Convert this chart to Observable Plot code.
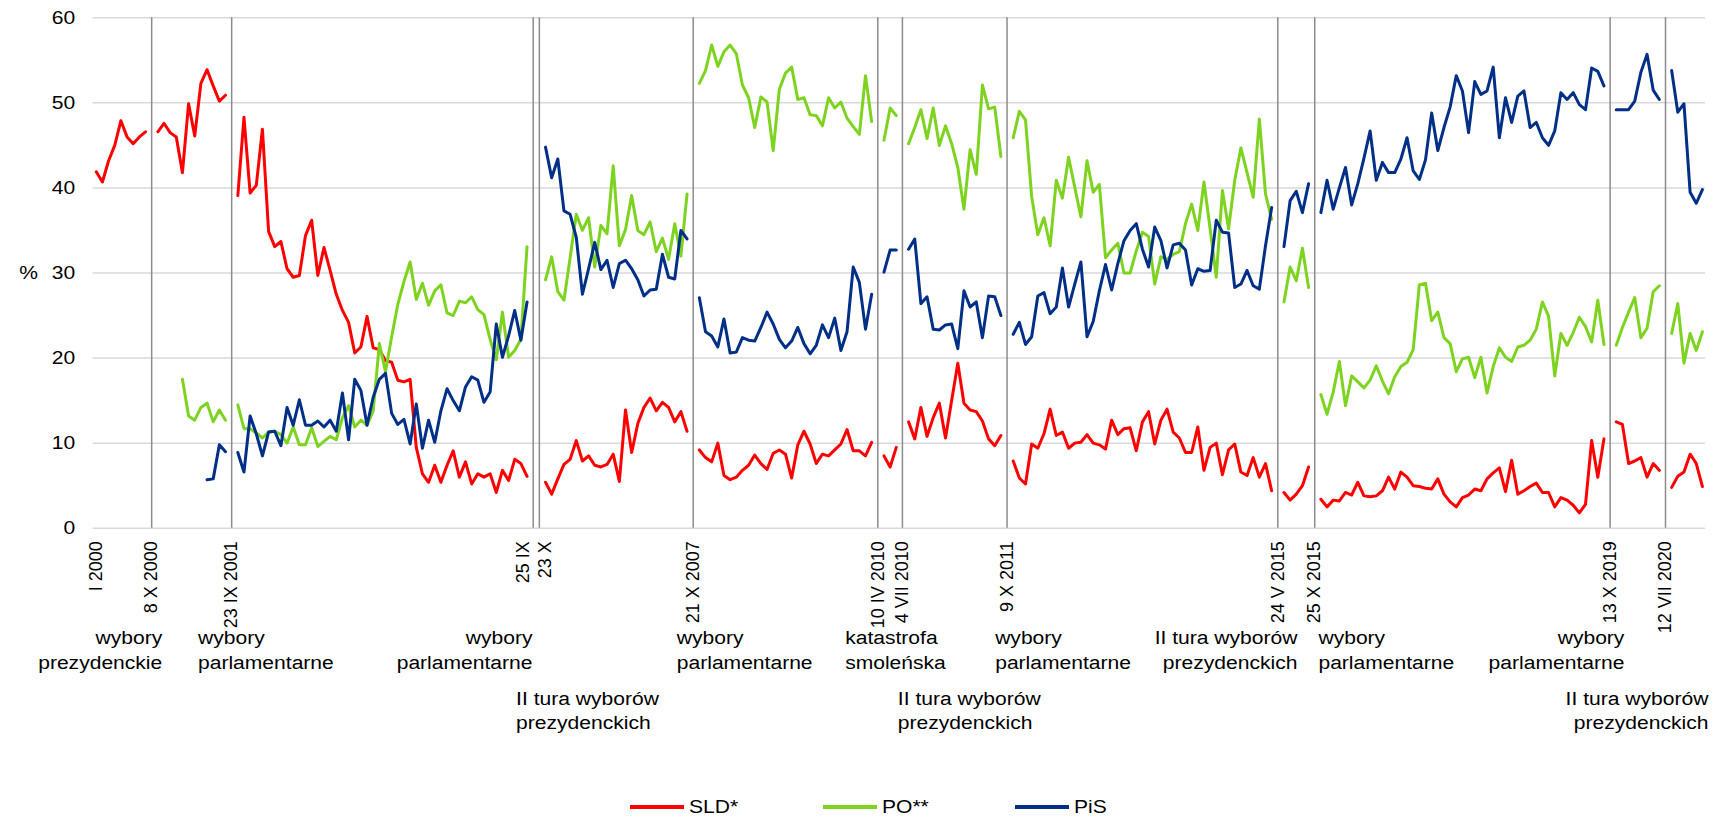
<!DOCTYPE html>
<html>
<head>
<meta charset="utf-8">
<script src="https://cdn.jsdelivr.net/npm/d3@7"></script>
<script src="https://cdn.jsdelivr.net/npm/@observablehq/plot@0.6"></script>
<style>
  html, body { margin: 0; padding: 0; background: #fff; }
  body { width: 1722px; height: 820px; overflow: hidden; font-family: "Liberation Sans", Arial, sans-serif; }
  #legend { display: flex; justify-content: center; align-items: center; gap: 92px; height: 26px; padding-top: 14px; padding-left: 10px; font-size: 18px; color: #000; }
  #legend .item { display: flex; align-items: center; }
  #legend .sw { display: inline-block; width: 54px; height: 4px; }
  #legend .lbl { display: inline-block; margin-left: 5px; transform: scaleX(1.17); transform-origin: left center; }
</style>
</head>
<body>
<div id="chart"></div>
<div id="legend"></div>
<script>
// ---- data: one value per monthly slot (null = no poll / event slot) ----
const seriesNames = ["SLD*", "PO**", "PiS"];
const seriesColors = ["#ff0000", "#7ed321", "#002f87"];
const yTicks = [0, 10, 20, 30, 40, 50, 60];

const sld = [
  41.9, 40.7, 43.2, 45.0, 47.9, 46.0, 45.2, 46.0, 46.6,
  null,
  46.6, 47.6, 46.5, 46.0, 41.8, 49.9, 46.1, 52.3, 53.9, 52.0, 50.2, 50.9,
  null,
  39.1, 48.3, 39.4, 40.3, 46.9, 34.9, 33.1, 33.7, 30.5, 29.5, 29.7, 34.4, 36.2, 29.7, 33.0, 30.3,
  27.5, 25.6, 24.2, 20.6, 21.3, 24.9, 21.2, 21.0, 19.7, 19.5, 17.4, 17.2, 17.5, 9.5, 6.4, 5.4,
  7.4, 5.4, 7.4, 9.1, 6.0, 7.8, 5.2, 6.4, 6.0, 6.4, 4.2, 6.8, 5.6, 8.1, 7.6, 6.1,
  null, null,
  5.4, 4.0, 5.8, 7.5, 8.1, 10.3, 7.9, 8.5, 7.4, 7.2, 7.5, 8.7, 5.5, 13.9, 8.9, 12.3, 14.2, 15.3,
  13.8, 14.8, 14.2, 12.5, 13.7, 11.4,
  null,
  9.2, 8.3, 7.8, 10.0, 6.2, 5.7, 6.0, 6.8, 7.4, 8.6, 7.6, 6.9, 8.8, 9.2, 8.7, 5.9, 9.8, 11.4, 9.9,
  7.6, 8.7, 8.5, 9.2, 9.9, 11.6, 9.1, 9.1, 8.5, 10.1,
  null,
  8.5, 7.2, 9.5,
  null,
  12.5, 10.5, 14.2, 10.8, 13.0, 14.7, 10.6, 15.0, 19.4, 14.7, 13.9, 13.7, 12.6, 10.5, 9.7, 10.9,
  null,
  7.9, 5.9, 5.2, 9.9, 9.4, 11.1, 14.0, 10.9, 11.3, 9.4, 10.0, 10.1, 11.0, 10.0, 9.8, 9.3, 12.7,
  11.0, 11.7, 11.8, 9.1, 12.5, 13.7, 9.9, 12.7, 14.0, 11.3, 10.6, 8.9, 8.9, 11.9, 6.8, 9.5, 10.0,
  6.3, 9.2, 9.9, 6.6, 6.2, 8.3, 6.0, 7.6, 4.4,
  null,
  4.2, 3.3, 4.0, 5.0, 7.2,
  null,
  3.4, 2.5, 3.3, 3.2, 4.2, 3.9, 5.4, 3.8, 3.7, 3.8, 4.4, 6.0, 4.6, 6.6, 6.0, 5.0, 4.9, 4.7, 4.6,
  5.8, 4.0, 3.1, 2.5, 3.6, 3.9, 4.6, 4.4, 5.8, 6.5, 7.1, 4.3, 8.0, 4.0, 4.4, 4.9, 5.3, 4.2, 4.2,
  2.5, 3.6, 3.3, 2.7, 1.8, 2.8, 10.3, 6.0, 10.5,
  null,
  12.5, 12.2, 7.6, 7.9, 8.3, 6.0, 7.6, 6.8,
  null,
  4.8, 6.1, 6.6, 8.7, 7.6, 4.9
];

const po = [
  null, null, null, null, null, null, null, null, null,
  null,
  null, null, null, null, 17.5, 13.2, 12.7, 14.2, 14.7, 12.5, 13.9, 12.7,
  null,
  14.5, 11.7, 11.7, 11.2, 10.6, 11.3, 11.4, 11.0, 10.0, 11.9, 9.8, 9.8, 11.8, 9.6, 10.2, 10.8,
  10.4, 13.0, 14.4, 11.9, 12.7, 12.1, 13.8, 21.7, 18.4, 22.5, 26.3, 29.0, 31.3, 26.9, 28.8, 26.2,
  27.9, 28.6, 25.3, 25.0, 26.7, 26.5, 27.2, 25.7, 25.1, 22.2, 19.8, 25.4, 20.1, 20.9, 22.2, 33.1,
  null, null,
  29.2, 31.9, 27.8, 26.8, 31.8, 36.9, 35.0, 36.5, 30.7, 35.6, 34.6, 42.6, 33.2, 35.1, 39.1, 35.0,
  34.5, 36.0, 32.5, 34.1, 31.6, 35.8, 32.0, 39.3,
  null,
  52.3, 53.8, 56.8, 54.3, 56.0, 56.8, 55.8, 52.1, 50.6, 47.1, 50.7, 50.1, 44.4, 51.6, 53.5, 54.2,
  50.4, 50.6, 48.6, 48.5, 47.3, 50.6, 49.4, 50.1, 48.2, 47.2, 46.3, 53.2, 47.8,
  null,
  45.6, 49.4, 48.5,
  null,
  45.2, 47.1, 49.2, 45.8, 49.4, 45.0, 47.3, 45.2, 42.4, 37.5, 44.5, 41.6, 52.1, 49.3, 49.5, 43.7,
  null,
  45.9, 49.0, 48.0, 39.0, 34.5, 36.5, 33.2, 40.9, 38.8, 43.6, 40.1, 36.6, 43.2, 39.5, 40.4, 31.8,
  32.7, 33.5, 30.0, 30.0, 32.6, 34.8, 34.3, 28.7, 31.9, 31.6, 32.2, 32.5, 35.8, 38.1, 35.0, 40.7,
  35.2, 29.5, 39.7, 35.2, 40.9, 44.7, 41.8, 38.9, 48.1, 39.3, 36.3,
  null,
  26.6, 30.7, 29.1, 32.9, 28.3,
  null,
  15.7, 13.4, 16.0, 19.6, 14.4, 17.9, 17.2, 16.5, 17.4, 19.1, 17.3, 15.8, 17.8, 19.0, 19.5, 21.0,
  28.6, 28.8, 24.4, 25.4, 22.4, 21.7, 18.4, 19.9, 20.1, 17.7, 20.1, 15.9, 19.0, 21.2, 20.1, 19.6,
  21.3, 21.5, 22.1, 23.4, 26.6, 24.9, 17.9, 22.9, 21.5, 23.0, 24.8, 23.7, 21.9, 26.8, 21.6,
  null,
  21.5, 23.6, 25.4, 27.1, 22.4, 23.5, 27.8, 28.5,
  null,
  22.9, 26.4, 19.4, 22.9, 20.9, 23.1
];

const pis = [
  null, null, null, null, null, null, null, null, null,
  null,
  null, null, null, null, null, null, null, null, 5.7, 5.8, 9.8, 9.0,
  null,
  8.9, 6.6, 13.2, 11.1, 8.5, 11.3, 11.4, 9.7, 14.2, 12.1, 15.1, 12.1, 12.1, 12.6, 11.9, 12.7,
  11.4, 15.9, 10.4, 17.5, 16.2, 12.1, 15.4, 17.5, 18.2, 13.5, 12.2, 12.8, 9.9, 14.6, 9.4, 12.7,
  10.1, 13.8, 16.4, 15.0, 13.8, 16.6, 17.8, 17.4, 14.8, 16.0, 24.0, 20.1, 22.6, 25.6, 22.1, 26.6,
  null, null,
  44.8, 41.2, 43.4, 37.3, 36.9, 34.2, 27.5, 30.5, 33.6, 30.4, 31.5, 28.3, 31.1, 31.5, 30.5, 29.2,
  27.3, 28.0, 28.1, 32.2, 29.5, 29.3, 35.0, 34.0,
  null,
  27.1, 23.1, 22.6, 21.3, 24.6, 20.6, 20.7, 22.4, 22.1, 22.0, 23.6, 25.4, 24.0, 22.2, 21.2, 22.0,
  23.6, 21.7, 20.5, 21.5, 23.9, 22.4, 24.7, 20.9, 23.1, 30.7, 28.9, 23.4, 27.5,
  null,
  30.1, 32.7, 32.7,
  null,
  32.8, 34.0, 26.4, 27.2, 23.4, 23.3, 23.9, 24.0, 21.1, 27.9, 26.0, 26.6, 22.4, 27.3, 27.2, 25.0,
  null,
  22.8, 24.2, 21.6, 22.5, 27.3, 27.7, 25.2, 26.0, 30.6, 26.0, 28.7, 31.3, 22.5, 24.3, 27.9, 31.0,
  28.0, 31.1, 33.8, 35.0, 35.8, 32.8, 30.7, 35.4, 33.8, 30.6, 33.3, 33.5, 32.7, 28.6, 30.5, 30.2,
  30.3, 36.2, 34.8, 34.7, 28.3, 28.7, 30.3, 28.5, 28.1, 33.2, 37.7,
  null,
  33.1, 38.5, 39.6, 37.1, 40.5,
  null,
  37.1, 40.9, 37.5, 40.0, 42.4, 38.0, 40.5, 43.5, 46.7, 40.9, 43.0, 41.8, 41.8, 43.4, 45.9, 42.0,
  41.0, 43.3, 48.8, 44.4, 47.1, 49.5, 53.2, 51.4, 46.5, 52.5, 51.0, 51.4, 54.2, 45.9, 50.6, 47.7,
  50.8, 51.4, 47.1, 47.7, 45.9, 45.0, 46.7, 51.2, 50.4, 51.2, 49.8, 49.2, 54.1, 53.7, 52.0,
  null,
  49.2, 49.2, 49.2, 50.2, 53.6, 55.7, 51.5, 50.4,
  null,
  53.8, 48.9, 49.9, 39.5, 38.2, 39.8
];

// event slots (empty slot at each event) and their labels
const eventSlots = [9, 22, 71, 72, 97, 127, 131, 148, 192, 198, 246, 255];
const eventDates = ["8 X 2000", "23 IX 2001", "25 IX", "23 X", "21 X 2007", "10 IV 2010",
  "4 VII 2010", "9 X 2011", "24 V 2015", "25 X 2015", "13 X 2019", "12 VII 2020"];
const startLabel = "I 2000";
const eventNotes = ["wybory\nprezydenckie", "wybory\nparlamentarne", "wybory\nparlamentarne",
  "II tura wyborów\nprezydenckich", "wybory\nparlamentarne", "katastrofa\nsmoleńska",
  "II tura wyborów\nprezydenckich", "wybory\nparlamentarne", "II tura wyborów\nprezydenckich",
  "wybory\nparlamentarne", "wybory\nparlamentarne", "II tura wyborów\nprezydenckich"];

// ---- build ----
const nSlots = sld.length;
const rows = [];
[sld, po, pis].forEach((arr, s) => arr.forEach((v, i) => rows.push({i, v, party: seriesNames[s]})));

const dateLabels = [{x: 0, t: startLabel}].concat(eventSlots.map((s, k) => {
  // spread two adjacent event labels apart
  let off = 0;
  if (eventSlots[k + 1] === s + 1) off = -1.6;
  if (eventSlots[k - 1] === s - 1) off = 1.0;
  return {x: s + off, t: eventDates[k]};
}));

// note placement (slot units), anchor and row (0 = upper, 1 = lower)
const notePlace = [[10.72, "end", 0], [16.53, "start", 0], [70.88, "end", 0], [68.22, "start", 1],
  [94.33, "start", 0], [121.69, "start", 0], [130.26, "start", 1], [146.07, "start", 0],
  [195.19, "end", 0], [198.6, "start", 0], [248.32, "end", 0], [261.97, "end", 1]];
const notes = eventNotes.map((t, k) => ({x: notePlace[k][0], a: notePlace[k][1], r: notePlace[k][2], t}));

const font = "'Liberation Sans', Arial, sans-serif";
const noteMark = (anchor, row, dy) => Plot.text(notes.filter(d => d.a === anchor && d.r === row), {
  x: "x", y: () => 0, text: "t", textAnchor: anchor, lineAnchor: "middle", lineHeight: 1.36,
  dy, fontSize: 18, fill: "#000"
});

const chart = Plot.plot({
  width: 1722,
  height: 780,
  marginLeft: 92.7,
  marginRight: 17,
  marginTop: 17.3,
  marginBottom: 252.3,
  x: {domain: [-0.5, nSlots - 0.5], axis: null},
  y: {domain: [0, 60], axis: null},
  color: {domain: seriesNames, range: seriesColors},
  style: {fontFamily: font, background: "#fff", color: "#000", overflow: "visible"},
  marks: [
    Plot.ruleY(yTicks, {stroke: "#d9d9d9", strokeWidth: 1.5}),
    Plot.ruleX(eventSlots, {y1: 0, y2: 60, stroke: "#8c8c8c", strokeWidth: 1.5}),
    Plot.axisY({ticks: yTicks, tickSize: 0, tickPadding: 18, fontSize: 18, label: null}),
    Plot.text([{y: 30, t: "%"}], {y: "y", text: "t", frameAnchor: "left", dx: -74, fontSize: 18, fill: "#000"}),
    Plot.line(rows, {x: "i", y: "v", z: "party", stroke: "party", strokeWidth: 3, strokeLinejoin: "round"}),
    Plot.text(dateLabels, {x: "x", y: () => 0, text: "t", rotate: -90, textAnchor: "end",
      lineAnchor: "middle", dy: 13, fontSize: 18, fill: "#000"}),
    noteMark("start", 0, 120.5),
    noteMark("end", 0, 120.5),
    noteMark("start", 1, 181),
    noteMark("end", 1, 181)
  ]
});
document.getElementById("chart").appendChild(chart);

// horizontal text in the reference is drawn ~17% wider than regular Arial
const STRETCH = 1.17;
chart.querySelectorAll("text").forEach(t => {
  const tr = t.getAttribute("transform") || "";
  if (tr.includes("rotate")) return;
  const spans = t.querySelectorAll("tspan");
  const targets = spans.length ? Array.from(spans) : [t];
  targets.forEach(el => {
    const len = el.getComputedTextLength();
    if (len > 0) {
      el.setAttribute("textLength", (len * STRETCH).toFixed(2));
      el.setAttribute("lengthAdjust", "spacingAndGlyphs");
    }
  });
});

// legend
const legend = document.getElementById("legend");
seriesNames.forEach((name, k) => {
  const item = document.createElement("div");
  item.className = "item";
  const sw = document.createElement("span");
  sw.className = "sw";
  sw.style.background = seriesColors[k];
  const lbl = document.createElement("span");
  lbl.className = "lbl";
  lbl.textContent = name;
  item.appendChild(sw);
  item.appendChild(lbl);
  legend.appendChild(item);
});
</script>
</body>
</html>
